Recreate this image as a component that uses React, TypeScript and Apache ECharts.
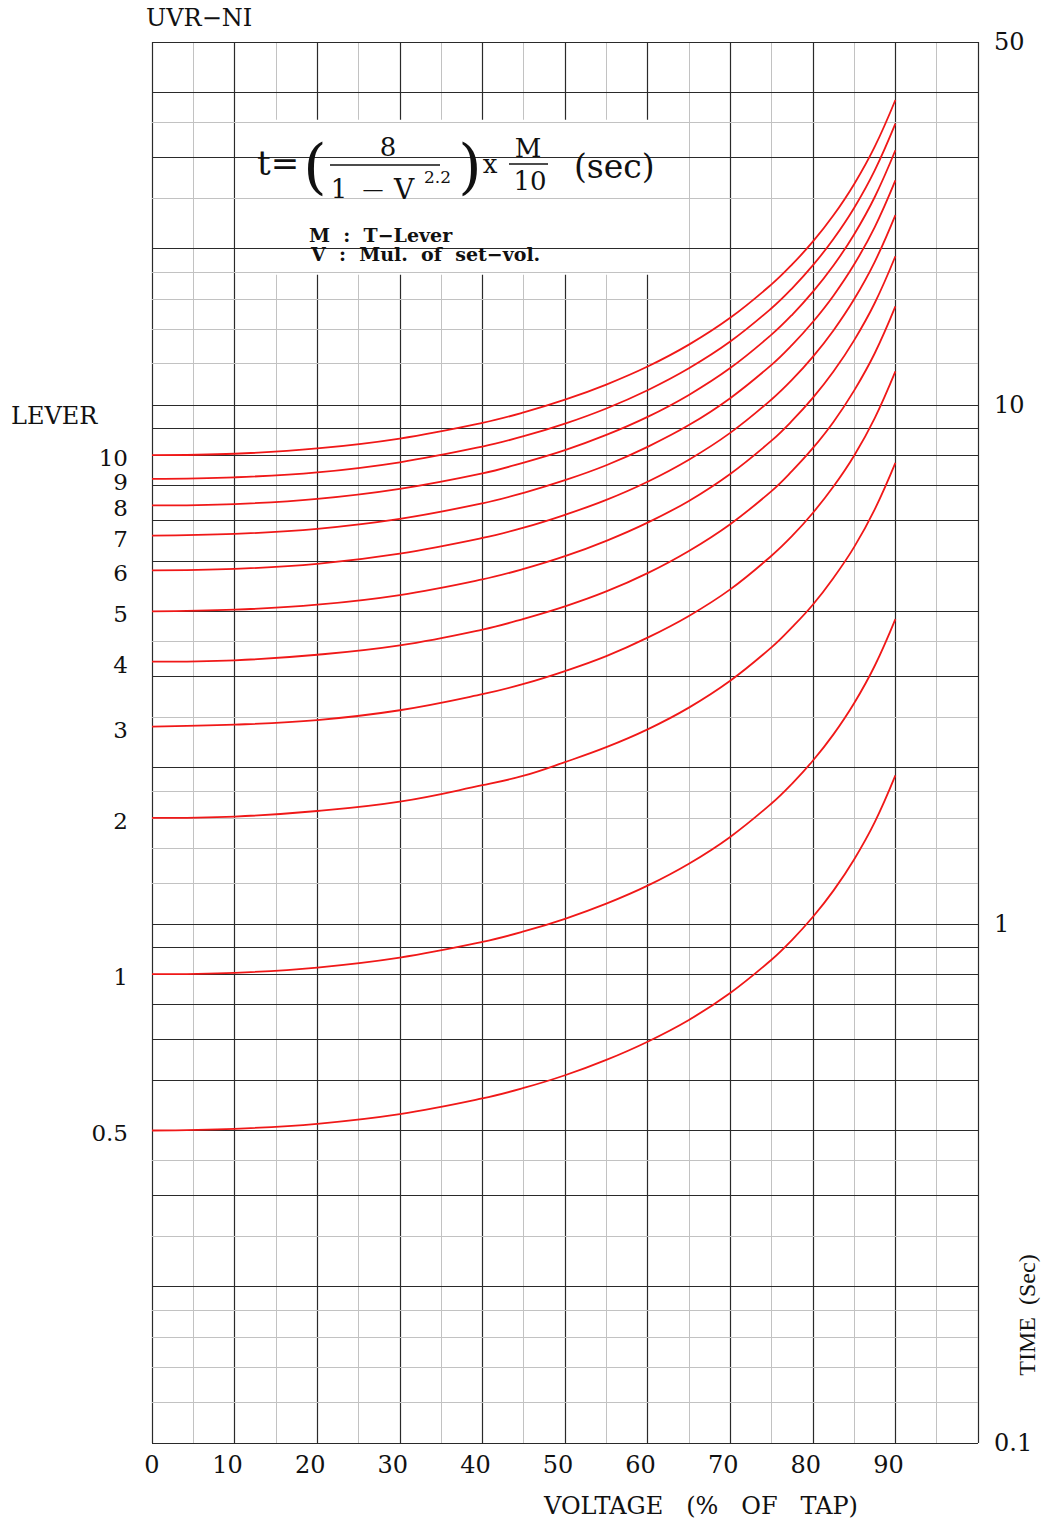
import React, { useEffect, useRef } from 'react';
import * as echarts from 'echarts';

// ---------- data ----------
const voltage = [0, 10, 20, 30, 40, 45, 50, 55, 60, 65, 70, 75, 77.5, 80, 82.5, 85, 87.5, 90];
const leverNames = ['10', '9', '8', '7', '6', '5', '4', '3', '2', '1', '0.5'];
const lever10 = [8.0, 8.05, 8.24, 8.61, 9.23, 9.67, 10.23, 10.94, 11.85, 13.06, 14.71, 17.06, 18.64, 20.62, 23.18, 26.61, 31.43, 38.66];
const lever9 = [7.2, 7.25, 7.41, 7.75, 8.31, 8.7, 9.2, 9.84, 10.67, 11.76, 13.24, 15.35, 16.77, 18.56, 20.87, 23.95, 28.29, 34.8];
const lever8 = [6.4, 6.44, 6.59, 6.89, 7.38, 7.74, 8.18, 8.75, 9.48, 10.45, 11.77, 13.65, 14.91, 16.5, 18.55, 21.29, 25.14, 30.93];
const lever7 = [5.6, 5.64, 5.77, 6.03, 6.46, 6.77, 7.16, 7.65, 8.3, 9.14, 10.3, 11.94, 13.05, 14.44, 16.23, 18.63, 22.0, 27.06];
const lever6 = [4.8, 4.83, 4.94, 5.17, 5.54, 5.8, 6.14, 6.56, 7.11, 7.84, 8.83, 10.24, 11.18, 12.37, 13.91, 15.97, 18.86, 23.2];
const lever5 = [4.0, 4.03, 4.12, 4.3, 4.61, 4.83, 5.11, 5.47, 5.93, 6.53, 7.36, 8.53, 9.32, 10.31, 11.59, 13.31, 15.71, 19.33];
const lever4 = [3.2, 3.22, 3.3, 3.44, 3.69, 3.87, 4.09, 4.37, 4.74, 5.23, 5.89, 6.82, 7.46, 8.25, 9.27, 10.65, 12.57, 15.47];
const lever3 = [2.4, 2.42, 2.47, 2.58, 2.77, 2.9, 3.07, 3.28, 3.56, 3.92, 4.41, 5.12, 5.59, 6.19, 6.96, 7.98, 9.43, 11.6];
const lever2 = [1.6, 1.61, 1.65, 1.72, 1.85, 1.93, 2.05, 2.19, 2.37, 2.61, 2.94, 3.41, 3.73, 4.12, 4.64, 5.32, 6.29, 7.73];
const lever1 = [0.8, 0.805, 0.824, 0.861, 0.923, 0.967, 1.023, 1.094, 1.185, 1.306, 1.471, 1.706, 1.864, 2.062, 2.318, 2.661, 3.143, 3.866];
const lever05 = [0.4, 0.403, 0.412, 0.43, 0.461, 0.483, 0.511, 0.547, 0.593, 0.653, 0.736, 0.853, 0.932, 1.031, 1.159, 1.331, 1.571, 1.933];
const leverCurves = [lever10, lever9, lever8, lever7, lever6, lever5, lever4, lever3, lever2, lever1, lever05];

const timeTickValues = [50, 10, 1, 0.1];
const timeTickLabels = ['50', '10', '1', '0.1'];
const majorTimeLines = [0.1, 0.2, 0.3, 0.4, 0.5, 0.6, 0.7, 0.8, 0.9, 1, 2, 3, 4, 5, 6, 7, 8, 9, 10, 20, 30, 40, 50];
const minorTimeLines = [0.12, 0.14, 0.16, 0.18, 0.25, 0.35, 1.2, 1.4, 1.6, 1.8, 2.5, 3.5, 12, 14, 16, 18, 25, 35];

// ---------- styles ----------
const FONT = 'DejaVu Serif';
const INK = '#111';
const DARK = '#2a2a2a';
const LIGHT = '#c2c2c2';
const RED = '#f01818';
const LABEL_SIZE = 24;
const LEVER_SIZE = 23;

const txt = (text: string, x: number, y: number, size: number, o: any = {}) => ({
  type: 'text',
  x,
  y,
  z: 100,
  rotation: o.rot || 0,
  style: {
    text,
    fontSize: size,
    fontFamily: o.family || FONT,
    fontWeight: o.weight || 'normal',
    fill: INK,
    align: o.align || 'left',
    verticalAlign: 'middle',
    textAlign: o.align || 'left',
    textVerticalAlign: 'middle',
  },
});

const bar = (x1: number, x2: number, y: number) => ({
  type: 'line',
  z: 100,
  shape: { x1, y1: y, x2, y2: y },
  style: { stroke: INK, lineWidth: 1.6 },
});

export default function App() {
  const ref = useRef<HTMLDivElement>(null);

  useEffect(() => {
    if (!ref.current) return;
    const chart = echarts.init(ref.current, null, { renderer: 'svg' });

    const curveSeries = leverCurves.map((vals, i) => ({
      type: 'line',
      name: 'Lever ' + leverNames[i],
      z: 5,
      clip: false,
      smooth: 0.4,
      showSymbol: true,
      symbol: 'circle',
      symbolSize: 0,
      silent: true,
      lineStyle: { color: RED, width: 1.8 },
      itemStyle: { color: RED },
      label: { show: false },
      data: vals.map((v, j) =>
        j === 0
          ? {
              value: [voltage[j], v],
              label: {
                show: true,
                position: 'left',
                distance: 24,
                offset: [0, 3],
                formatter: leverNames[i],
                fontFamily: FONT,
                fontSize: LEVER_SIZE,
                lineHeight: 19,
                color: INK,
              },
            }
          : { value: [voltage[j], v] }
      ),
    }));

    const option: any = {
      animation: false,
      backgroundColor: '#fff',
      grid: { left: 152, top: 42, width: 826, height: 1401, containLabel: false, outerBoundsMode: 'none' },
      xAxis: {
        type: 'value',
        min: 0,
        max: 100,
        interval: 10,
        axisLine: { show: false },
        axisTick: { show: false },
        splitLine: { show: true, lineStyle: { color: DARK, width: 1.2 } },
        minorTick: { show: false, splitNumber: 2 },
        minorSplitLine: { show: true, lineStyle: { color: LIGHT, width: 1 } },
        axisLabel: {
          margin: 10,
          color: INK,
          fontFamily: FONT,
          fontSize: LABEL_SIZE,
          formatter: (v: number) => (v === 100 ? '' : v === 0 ? '{z|0}' : '{n|' + v + '}'),
          rich: {
            z: { fontFamily: FONT, fontSize: LABEL_SIZE, color: INK },
            n: { fontFamily: FONT, fontSize: LABEL_SIZE, color: INK, padding: [0, 14, 0, 0] },
          },
        },
      },
      yAxis: {
        type: 'log',
        logBase: 10,
        min: 0.1,
        max: 50,
        axisLine: { show: false },
        axisTick: { show: false },
        axisLabel: { show: false },
        splitLine: { show: false },
      },
      series: [
        {
          type: 'line',
          name: 'gridMinor',
          data: [],
          z: 1,
          silent: true,
          markLine: {
            silent: true,
            symbol: 'none',
            animation: false,
            label: { show: false },
            lineStyle: { color: LIGHT, width: 1, type: 'solid' },
            emphasis: { disabled: true },
            data: minorTimeLines.map((v) => ({ yAxis: v })),
          },
        },
        {
          type: 'line',
          name: 'gridMajor',
          data: [],
          z: 2,
          silent: true,
          markLine: {
            silent: true,
            symbol: 'none',
            animation: false,
            label: { show: false },
            lineStyle: { color: DARK, width: 1.2, type: 'solid' },
            emphasis: { disabled: true },
            data: majorTimeLines.map((v) => {
              const k = timeTickValues.indexOf(v);
              return k >= 0
                ? {
                    yAxis: v,
                    label: {
                      show: true,
                      position: 'end',
                      distance: 16,
                      formatter: timeTickLabels[k],
                      fontFamily: FONT,
                      fontSize: LABEL_SIZE,
                      color: INK,
                    },
                  }
                : { yAxis: v };
            }),
          },
        },
        {
          type: 'line',
          name: 'formulaBox',
          data: [],
          z: 3,
          silent: true,
          markArea: {
            silent: true,
            itemStyle: { color: '#ffffff', borderWidth: 0 },
            emphasis: { disabled: true },
            data: [[{ xAxis: 10.12, yAxis: 35.4 }, { xAxis: 64.88, yAxis: 17.8 }]],
          },
        },
        ...curveSeries,
      ],
      graphic: {
        elements: [
          txt('UVR−NI', 146, 18, 24),
          txt('LEVER', 11, 416, 24),
          txt('TIME  (Sec)', 1027, 1315, 24, { align: 'center', rot: Math.PI / 2, family: 'Liberation Serif' }),
          txt('VOLTAGE   (%   OF   TAP)', 544, 1506, 24),
          // formula
          txt('t=', 257, 163, 34),
          txt('(', 315, 166, 60, { align: 'center' }),
          txt('8', 388, 147, 26, { align: 'center' }),
          bar(330, 440, 165),
          txt('1', 339, 189, 26, { align: 'center' }),
          txt('—', 373, 189, 21, { align: 'center' }),
          txt('V', 404, 189, 28, { align: 'center' }),
          txt('2.2', 424, 177, 17),
          txt(')', 470, 166, 60, { align: 'center' }),
          txt('x', 490, 164, 26, { align: 'center' }),
          txt('M', 528, 148, 26, { align: 'center' }),
          bar(509, 548, 164),
          txt('10', 530, 181, 26, { align: 'center' }),
          txt('(sec)', 574, 166, 33),
          txt('M  :  T−Lever', 309, 235, 19, { weight: 'bold' }),
          txt('V  :  Mul.  of  set−vol.', 311, 254, 19, { weight: 'bold' }),
        ],
      },
    };

    chart.setOption(option);
    return () => chart.dispose();
  }, []);

  return (
    <div
      ref={ref}
      style={{ position: 'absolute', left: 0, top: 0, width: 1045, height: 1522, background: '#fff' }}
    />
  );
}
